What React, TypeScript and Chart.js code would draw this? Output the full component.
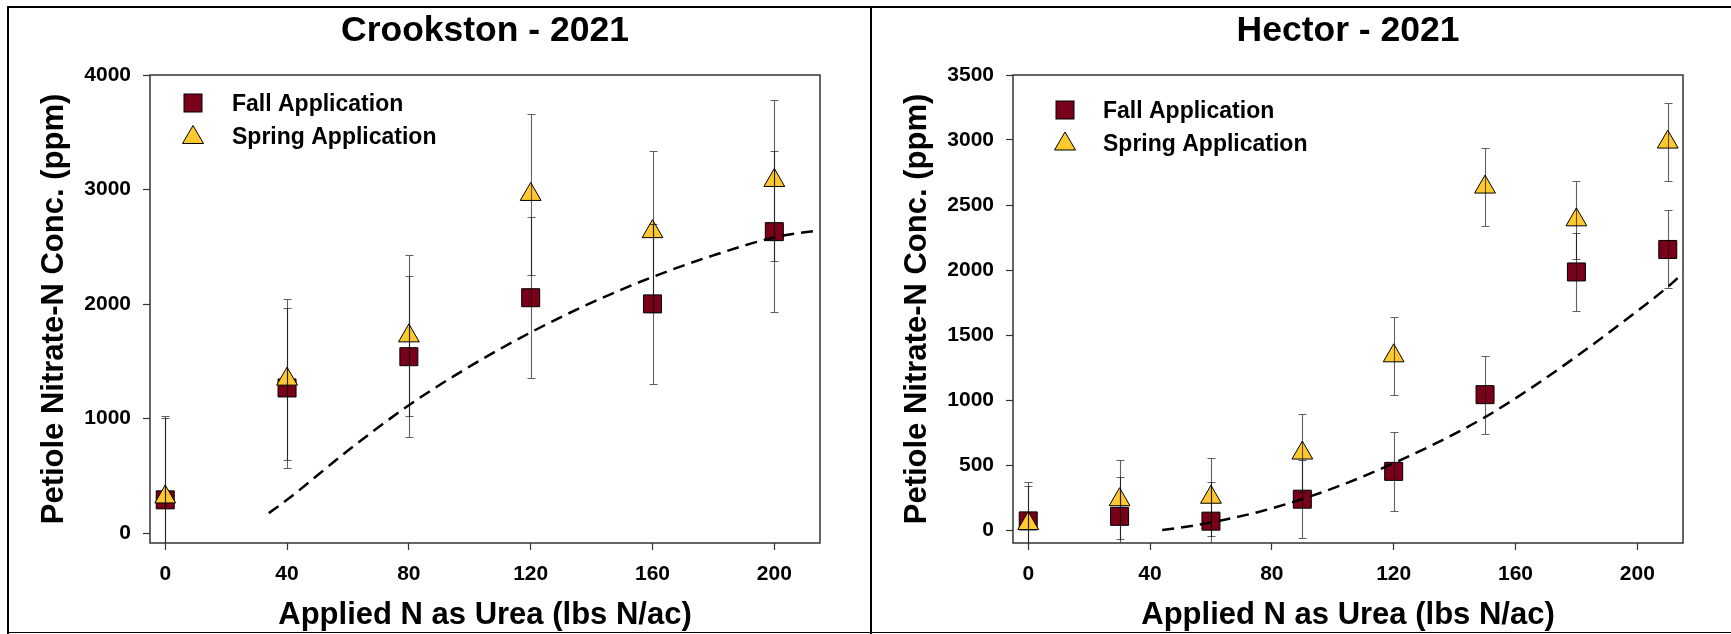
import React, { useEffect, useRef } from "react";
import { Chart, registerables } from "chart.js";

Chart.register(...registerables);

const FONT = "'Liberation Sans', Arial, Helvetica, sans-serif";

// ---------- Shared ----------
const xTicks = [0, 40, 80, 120, 160, 200];
const xTitle = "Applied N as Urea (lbs N/ac)";
const yTitle = "Petiole Nitrate-N Conc. (ppm)";
const fallLabel = "Fall Application";
const springLabel = "Spring Application";

// ---------- Crookston - 2021 ----------
const crookstonTitle = "Crookston - 2021";
const crookstonRates = [0, 40, 80, 120, 160, 200];
const crookstonFall = [290, 1267, 1540, 2055, 2001, 2632];
const crookstonFallErr = [712, 700, 702, 702, 700, 703];
const crookstonSpring = [315, 1344, 1722, 2957, 2632, 3079];
const crookstonSpringErr = [705, 702, 702, 705, 702, 702];
const crookstonFitX = [34, 40, 60, 80, 100, 120, 140, 160, 180, 200, 215];
const crookstonFitY = [174, 290, 720, 1116, 1455, 1752, 2012, 2236, 2425, 2581, 2646];
const crookstonYTicks = [0, 1000, 2000, 3000, 4000];

// ---------- Hector - 2021 ----------
const hectorTitle = "Hector - 2021";
const hectorRates = [0, 30, 60, 90, 120, 150, 180, 210];
const hectorFall = [70, 105, 68, 237, 451, 1041, 1985, 2158];
const hectorFallErr = [296, 302, 301, 300, 301, 301, 301, 300];
const hectorSpring = [50, 233, 252, 592, 1340, 2638, 2386, 2984];
const hectorSpringErr = [290, 302, 301, 298, 301, 298, 302, 300];
const hectorFitX = [44, 50, 60, 75, 90, 105, 120, 135, 150, 165, 180, 195, 210, 215];
const hectorFitY = [0, 18, 58, 135, 238, 365, 514, 680, 868, 1090, 1335, 1595, 1870, 1975];
const hectorYTicks = [0, 500, 1000, 1500, 2000, 2500, 3000, 3500];

const FALL_COLOR = "#7a0019";
const SPRING_COLOR = "#ffc82e";

type Panel = {
  title: string;
  rates: number[];
  fall: number[];
  fallErr: number[];
  spring: number[];
  springErr: number[];
  fitX: number[];
  fitY: number[];
  yTicks: number[];
  yMin: number;
  yMax: number;
  padRight: number;
  legend: {
    markerX: number;
    fallY: number;
    springY: number;
    textX: number;
    fallBase: number;
    springBase: number;
  };
};

const crookston: Panel = {
  title: crookstonTitle,
  rates: crookstonRates,
  fall: crookstonFall,
  fallErr: crookstonFallErr,
  spring: crookstonSpring,
  springErr: crookstonSpringErr,
  fitX: crookstonFitX,
  fitY: crookstonFitY,
  yTicks: crookstonYTicks,
  yMin: -87,
  yMax: 4000,
  padRight: 49,
  legend: { markerX: 43, fallY: 28, springY: 59.5, textX: 82, fallBase: 36, springBase: 68.7 },
};

const hector: Panel = {
  title: hectorTitle,
  rates: hectorRates,
  fall: hectorFall,
  fallErr: hectorFallErr,
  spring: hectorSpring,
  springErr: hectorSpringErr,
  fitX: hectorFitX,
  fitY: hectorFitY,
  yTicks: hectorYTicks,
  yMin: -100,
  yMax: 3500,
  padRight: 48,
  legend: { markerX: 52, fallY: 35, springY: 66, textX: 90, fallBase: 42.7, springBase: 76 },
};

const errorBarPlugin = {
  id: "errorBars",
  afterDatasetsDraw(chart: any, _args: any, opts: any) {
    const ctx = chart.ctx;
    const area = chart.chartArea;
    const xs = chart.scales.x;
    const ys = chart.scales.y;
    ctx.save();
    ctx.beginPath();
    ctx.rect(area.left, area.top - 1, area.right - area.left, area.bottom - area.top + 1);
    ctx.clip();
    ctx.strokeStyle = "rgba(0,0,0,0.62)";
    ctx.lineWidth = 1.1;
    (opts.series || []).forEach((s: any) => {
      s.x.forEach((xv: number, j: number) => {
        const v = s.y[j];
        const e = s.err[j];
        const px = Math.round(xs.getPixelForValue(xv)) + 0.5;
        const hi = Math.round(ys.getPixelForValue(v + e)) + 0.5;
        const lo = Math.round(ys.getPixelForValue(v - e)) + 0.5;
        ctx.beginPath();
        ctx.moveTo(px, hi);
        ctx.lineTo(px, lo);
        [hi, lo].forEach((cy) => {
          if (cy >= area.top && cy <= area.bottom) {
            ctx.moveTo(px - 4, cy);
            ctx.lineTo(px + 4, cy);
          }
        });
        ctx.stroke();
      });
    });
    ctx.restore();
  },
};

const framePlugin = {
  id: "frame",
  afterDraw(chart: any) {
    const ctx = chart.ctx;
    const a = chart.chartArea;
    ctx.save();
    ctx.strokeStyle = "#333";
    ctx.lineWidth = 1.5;
    ctx.strokeRect(a.left, a.top, a.right - a.left, a.bottom - a.top);
    ctx.restore();
  },
};

const legendPlugin = {
  id: "innerLegend",
  afterDraw(chart: any, _args: any, opts: any) {
    const ctx = chart.ctx;
    const a = chart.chartArea;
    const L = opts.layout;
    const mx = a.left + L.markerX;
    ctx.save();
    ctx.fillStyle = FALL_COLOR;
    ctx.strokeStyle = "#000";
    ctx.lineWidth = 1;
    const fy = a.top + L.fallY;
    ctx.fillRect(mx - 9, fy - 9, 18, 18);
    ctx.strokeRect(mx - 9, fy - 9, 18, 18);
    const sy = a.top + L.springY;
    ctx.beginPath();
    ctx.moveTo(mx, sy - 9);
    ctx.lineTo(mx + 10.5, sy + 9);
    ctx.lineTo(mx - 10.5, sy + 9);
    ctx.closePath();
    ctx.fillStyle = SPRING_COLOR;
    ctx.fill();
    ctx.stroke();
    ctx.fillStyle = "#000";
    ctx.font = `bold 23px ${FONT}`;
    ctx.textBaseline = "alphabetic";
    ctx.textAlign = "left";
    ctx.fillText(opts.fallText, a.left + L.textX, a.top + L.fallBase);
    ctx.fillText(opts.springText, a.left + L.textX, a.top + L.springBase);
    ctx.restore();
  },
};

function makeConfig(p: Panel): any {
  const pts = (xs: number[], ys: number[]) => xs.map((x, i) => ({ x, y: ys[i] }));
  return {
    type: "scatter",
    data: {
      datasets: [
        {
          label: "fit",
          data: pts(p.fitX, p.fitY),
          showLine: true,
          borderColor: "#000",
          borderWidth: 2.5,
          borderDash: [12, 7],
          pointRadius: 0,
          cubicInterpolationMode: "monotone",
          tension: 0.4,
          fill: false,
          order: 0,
        },
        {
          label: springLabel,
          data: pts(p.rates, p.spring),
          pointStyle: "triangle",
          pointRadius: 12,
          pointHoverRadius: 12,
          backgroundColor: SPRING_COLOR,
          borderColor: "#000",
          borderWidth: 1,
          order: 1,
        },
        {
          label: fallLabel,
          data: pts(p.rates, p.fall),
          pointStyle: "rect",
          pointRadius: 12.73,
          pointHoverRadius: 12.73,
          backgroundColor: FALL_COLOR,
          borderColor: "#000",
          borderWidth: 1,
          order: 2,
        },
      ],
    },
    plugins: [errorBarPlugin, framePlugin, legendPlugin],
    options: {
      animation: false,
      responsive: false,
      maintainAspectRatio: false,
      events: [],
      layout: { padding: { left: 0, right: p.padRight, top: 0, bottom: 0 } },
      plugins: {
        legend: { display: false },
        tooltip: { enabled: false },
        title: {
          display: true,
          text: p.title,
          fullSize: false,
          color: "#000",
          font: { family: FONT, size: 35.5, weight: "bold" },
          padding: { top: 9.5, bottom: 22.9 },
        },
        errorBars: {
          series: [
            { x: p.rates, y: p.fall, err: p.fallErr },
            { x: p.rates, y: p.spring, err: p.springErr },
          ],
        },
        innerLegend: { layout: p.legend, fallText: fallLabel, springText: springLabel },
      },
      scales: {
        x: {
          type: "linear",
          min: -5,
          max: 215,
          afterBuildTicks: (s: any) => {
            s.ticks = xTicks.map((v) => ({ value: v }));
          },
          afterFit: (s: any) => {
            s.height = 91;
          },
          border: { display: false },
          grid: { drawOnChartArea: false, drawTicks: true, tickLength: 7, tickColor: "#333", tickWidth: 1.2 },
          ticks: {
            color: "#000",
            font: { family: FONT, size: 21, weight: "bold" },
            padding: 12,
            maxRotation: 0,
            autoSkip: false,
            callback: (v: any) => String(v),
          },
          title: {
            display: true,
            text: xTitle,
            color: "#000",
            font: { family: FONT, size: 31, weight: "bold" },
            padding: { top: 0, bottom: 0 },
          },
        },
        y: {
          type: "linear",
          min: p.yMin,
          max: p.yMax,
          afterBuildTicks: (s: any) => {
            s.ticks = p.yTicks.map((v) => ({ value: v }));
          },
          afterFit: (s: any) => {
            s.width = 141;
          },
          border: { display: false },
          grid: { drawOnChartArea: false, drawTicks: true, tickLength: 7, tickColor: "#333", tickWidth: 1.2 },
          ticks: {
            color: "#000",
            font: { family: FONT, size: 21, weight: "bold" },
            padding: 12,
            autoSkip: false,
            callback: (v: any) => String(v),
          },
          title: {
            display: true,
            text: yTitle,
            color: "#000",
            font: { family: FONT, size: 31, weight: "bold" },
            padding: { top: 27, bottom: 0 },
          },
        },
      },
    },
  };
}

function ChartPanel({ panel, left, width }: { panel: Panel; left: number; width: number }) {
  const ref = useRef<HTMLCanvasElement>(null);
  useEffect(() => {
    const chart = new Chart(ref.current as HTMLCanvasElement, makeConfig(panel));
    return () => chart.destroy();
  }, [panel]);
  return (
    <canvas
      ref={ref}
      width={width}
      height={634}
      style={{ position: "absolute", left, top: 0, width, height: 634 }}
    />
  );
}

export default function App() {
  const line = (style: React.CSSProperties) => (
    <div style={{ position: "absolute", background: "#000", ...style }} />
  );
  return (
    <div
      style={{
        position: "fixed",
        left: 0,
        top: 0,
        width: 1731,
        height: 634,
        background: "#fff",
        overflow: "hidden",
      }}
    >
      <ChartPanel panel={crookston} left={9} width={860} />
      <ChartPanel panel={hector} left={872} width={859} />
      {line({ left: 7, top: 6, width: 2, height: 628 })}
      {line({ left: 7, top: 6, width: 1724, height: 2 })}
      {line({ left: 870, top: 6, width: 2, height: 628 })}
      {line({ left: 7, top: 632, width: 1724, height: 1 })}
    </div>
  );
}
